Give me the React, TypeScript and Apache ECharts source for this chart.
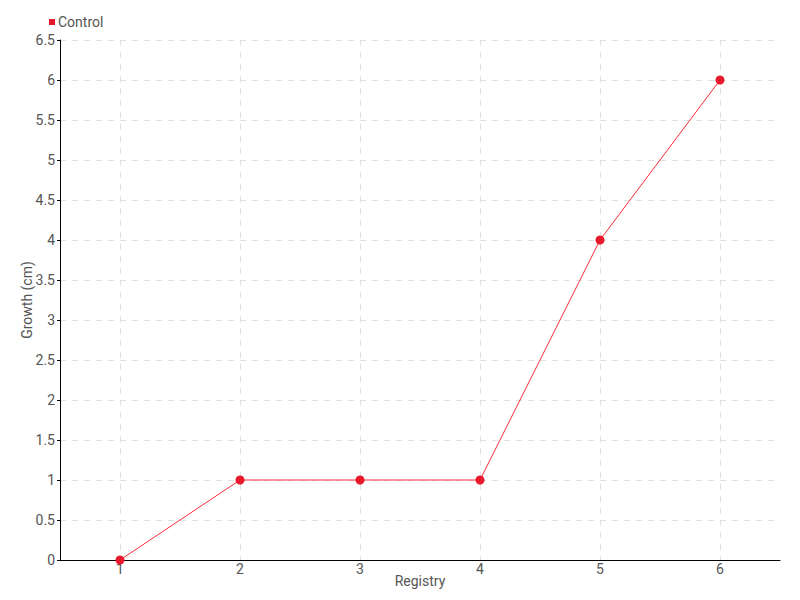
import React, { useEffect, useRef } from "react";
import * as echarts from "echarts";

const categories = ["1", "2", "3", "4", "5", "6"];
const controlValues = [0, 1, 1, 1, 4, 6];
const seriesName = "Control";
const xAxisName = "Registry";
const yAxisName = "Growth (cm)";

const FONT = "Roboto, 'DejaVu Sans', sans-serif";
const TEXT = "#555555";

export default function App() {
  const ref = useRef<HTMLDivElement>(null);
  useEffect(() => {
    if (!ref.current) return;
    const chart = echarts.init(ref.current, undefined, { renderer: "svg" });
    chart.setOption({
      animation: false,
      backgroundColor: "#ffffff",
      textStyle: { fontFamily: FONT },
      legend: {
        show: true,
        left: 44,
        top: 10,
        itemWidth: 6,
        itemHeight: 6,
        itemGap: 4,
        icon: "rect",
        textStyle: { color: TEXT, fontSize: 14, fontFamily: FONT, padding: [0, 0, 0, -2] },
        data: [seriesName],
      },
      grid: { left: 60, right: 20, top: 40, bottom: 40, containLabel: false, outerBoundsMode: "none" },
      xAxis: {
        type: "category",
        data: categories,
        boundaryGap: true,
        name: xAxisName,
        nameLocation: "middle",
        nameGap: 14,
        nameMoveOverlap: false,
        nameTextStyle: { color: TEXT, fontSize: 14, fontFamily: FONT },
        axisLine: { lineStyle: { color: "#000000", width: 1 } },
        axisTick: { show: false, alignWithLabel: true },
        axisLabel: { color: TEXT, fontSize: 14, fontFamily: FONT, margin: 2 },
        splitLine: {
          show: true,
          alignWithLabel: true,
          lineStyle: { color: "#e0e0e0", type: [6, 6], width: 1 },
        },
      },
      yAxis: {
        type: "value",
        min: 0,
        max: 6.5,
        interval: 0.5,
        name: yAxisName,
        nameLocation: "middle",
        nameGap: 26,
        nameMoveOverlap: false,
        nameTextStyle: { color: TEXT, fontSize: 14, fontFamily: FONT },
        axisLine: { show: true, lineStyle: { color: "#000000", width: 1 } },
        axisTick: { show: true, length: 3, lineStyle: { color: "#000000" } },
        axisLabel: { color: TEXT, fontSize: 14, fontFamily: FONT, margin: 5 },
        splitLine: { show: true, lineStyle: { color: "#e0e0e0", type: [6, 6], width: 1 } },
      },
      series: [
        {
          name: seriesName,
          type: "line",
          data: controlValues,
          symbol: "circle",
          symbolSize: 9,
          itemStyle: { color: "#e8192c" },
          lineStyle: { color: "#ff2a3c", width: 1 },
        },
      ],
    });
    return () => chart.dispose();
  }, []);
  return <div ref={ref} style={{ width: 800, height: 600, position: "absolute", left: 0, top: 0 }} />;
}
